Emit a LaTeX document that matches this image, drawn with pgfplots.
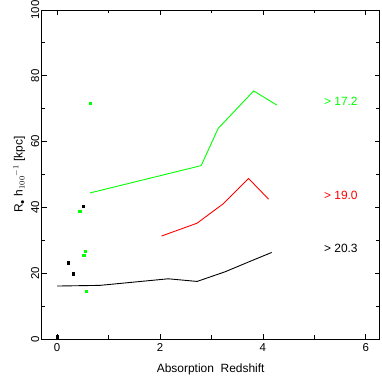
\documentclass[border=0pt]{standalone}
\usepackage{pgfplots}
\pgfplotsset{compat=1.18}
\usepackage{fontspec}
\setmainfont{Liberation Sans}

\begin{document}
\begin{tikzpicture}
\begin{axis}[
  scale only axis,
  width=338bp, height=329bp,
  xmin=-0.3, xmax=6.27,
  ymin=0, ymax=100,
  xtick={0,2,4,6},
  minor xtick={1,3,5},
  ytick={0,20,...,100},
  minor ytick={10,30,...,90},
  tick align=inside,
  major tick length=5bp,
  minor tick length=3.5bp,
  axis line style={line width=0.9pt},
  every tick/.style={line width=0.8pt,black},
  tick label style={font=\fontsize{11.5}{13}\selectfont},
  /pgf/number format/assume math mode=true,
  yticklabel style={rotate=90, anchor=south, yshift=-1bp},
  xticklabel style={yshift=-1bp},
  xlabel={Absorption\ \ Redshift},
  ylabel={R$_{\bullet}$ h$_{100}$$^{-1}$ [kpc]},
  label style={font=\fontsize{12}{14}\selectfont},
  xlabel style={yshift=-5bp},
  ylabel style={yshift=-1bp},
  clip=false,
]
% black curve (> 20.3)
\addplot[black, line width=0.9pt] coordinates {
  (0,16.1) (0.83,16.3) (2.16,18.3) (2.72,17.5) (3.26,20.4) (3.75,23.6) (4.17,26.3)};
% red curve (> 19.0)
\addplot[red, line width=0.9pt] coordinates {
  (2.03,31.3) (2.72,35.2) (3.22,41.0) (3.72,48.8) (4.11,42.5)};
% green curve (> 17.2)
\addplot[green, line width=0.9pt] coordinates {
  (0.64,44.4) (2.8,52.7) (3.13,64.0) (3.82,75.4) (4.27,71.1)};
% green points
\addplot[only marks, mark=square*, mark size=1.2bp, green] coordinates {
  (0.64,71.6) (0.44,38.9) (0.54,26.7) (0.52,25.4) (0.56,14.5)};
% black points
\addplot[only marks, mark=square*, mark size=1.2bp, black] coordinates {
  (0.51,40.3) (0.22,23.2) (0.31,19.8) (0,0.7)};
\node[anchor=west, green, font=\fontsize{12}{14}\selectfont] at (axis cs:5.12,72.1) {>\ 17.2};
\node[anchor=west, red, font=\fontsize{12}{14}\selectfont] at (axis cs:5.12,43.8) {>\ 19.0};
\node[anchor=west, black, font=\fontsize{12}{14}\selectfont] at (axis cs:5.12,27.4) {>\ 20.3};
\end{axis}
\pgfresetboundingbox
\path (current axis.south west) ++(-41.7bp,-43bp) rectangle ++(382bp,382bp);
\end{tikzpicture}
\end{document}
